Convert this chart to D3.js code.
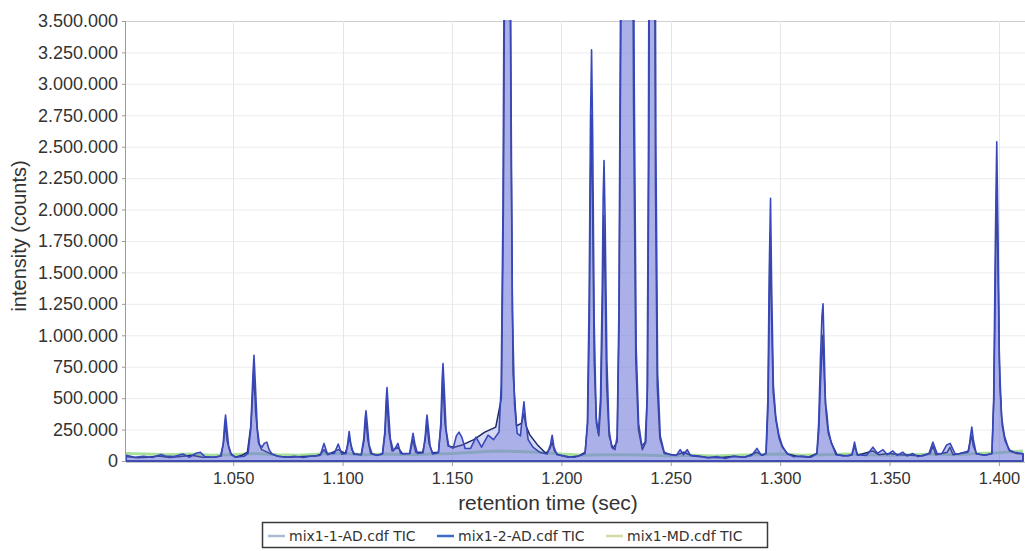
<!DOCTYPE html>
<html>
<head>
<meta charset="utf-8">
<script src="https://cdn.jsdelivr.net/npm/d3@7"></script>
<style>
  body { margin: 0; background: #fff; }
  svg { display: block; font-family: "Liberation Sans", Arial, sans-serif; }
</style>
</head>
<body>
<svg id="chart" width="1025" height="551"></svg>
<script>
// retention time (sec) ticks and intensity ticks
const xTicks = [1050, 1100, 1150, 1200, 1250, 1300, 1350, 1400];
const yTicks = [0, 250000, 500000, 750000, 1000000, 1250000, 1500000, 1750000,
                2000000, 2250000, 2500000, 2750000, 3000000, 3250000, 3500000];
const seriesNames = ["mix1-1-AD.cdf TIC", "mix1-2-AD.cdf TIC", "mix1-MD.cdf TIC"];
const legendColors = ["#a9bcd4", "#3b6cc6", "#cfdca6"];

// [time, counts]
const ad1Points = [
  [1001, 35000], [1006, 25000], [1011, 30000], [1016, 40000], [1021, 28000], [1026, 35000],
  [1031, 45000], [1036, 30000], [1042, 32000], [1044.5, 40000], [1045.6, 150000], [1046.4, 300000],
  [1047.2, 160000], [1048.8, 60000], [1051, 30000], [1054, 45000], [1056.5, 70000], [1058.2, 300000],
  [1059.4, 700000], [1060.3, 380000], [1061.5, 150000], [1063, 90000], [1065, 75000], [1067.5, 55000],
  [1071, 35000], [1076, 30000], [1082, 35000], [1088, 40000], [1090, 55000], [1091.5, 90000],
  [1093.2, 50000], [1098, 90000], [1101.2, 60000], [1102.3, 120000], [1103.1, 190000], [1104.2, 90000],
  [1105.5, 55000], [1108.6, 50000], [1109.8, 160000], [1110.6, 340000], [1111.5, 170000], [1112.8, 60000],
  [1116, 45000], [1118.3, 60000], [1119.4, 220000], [1120.2, 500000], [1121.2, 230000], [1122.6, 80000],
  [1125.2, 110000], [1127.5, 55000], [1130.8, 60000], [1132.1, 170000], [1133.4, 70000], [1136.6, 70000],
  [1137.7, 160000], [1138.5, 300000], [1139.5, 140000], [1141, 65000], [1143.8, 70000], [1145, 280000],
  [1145.8, 640000], [1146.8, 300000], [1148.2, 120000], [1151, 110000], [1155, 130000], [1160, 170000],
  [1165, 230000], [1170, 270000], [1172.6, 500000], [1173.5, 2000000], [1174.4, 5000000], [1176.3, 5000000],
  [1177, 2500000], [1177.9, 700000], [1179.5, 280000], [1181.8, 300000], [1182.8, 380000], [1183.8, 280000],
  [1185.5, 210000], [1189, 130000], [1193, 60000], [1194.8, 100000], [1195.8, 150000], [1196.8, 80000],
  [1198.5, 50000], [1203, 30000], [1208, 40000], [1210.9, 70000], [1212, 300000], [1212.8, 1100000],
  [1213.3, 2200000], [1213.7, 2750000], [1214.2, 2100000], [1215, 800000], [1216, 300000], [1217.1, 200000],
  [1218, 450000], [1218.8, 1200000], [1219.4, 1950000], [1219.9, 1500000], [1220.7, 600000], [1221.8, 200000],
  [1223.5, 100000], [1225.5, 150000], [1226.4, 1100000], [1227.2, 3500000], [1227.9, 5500000], [1232.3, 5500000],
  [1233, 2800000], [1234, 800000], [1235.2, 250000], [1237, 90000], [1238.6, 150000], [1239.4, 600000],
  [1240, 2500000], [1240.5, 5500000], [1242.4, 5500000], [1243, 2200000], [1243.8, 600000], [1245, 180000],
  [1247, 60000], [1252, 45000], [1256, 70000], [1260, 40000], [1266, 30000], [1272, 25000],
  [1278, 35000], [1284, 30000], [1289.3, 70000], [1292, 45000], [1293.6, 60000], [1294.5, 450000],
  [1295.1, 1300000], [1295.5, 1800000], [1296, 1200000], [1296.8, 550000], [1298, 330000], [1299.5, 180000],
  [1301, 110000], [1303.5, 55000], [1308, 35000], [1313, 30000], [1316.8, 60000], [1317.7, 250000],
  [1318.5, 650000], [1319.5, 1000000], [1320.2, 650000], [1321, 380000], [1322, 220000], [1323.5, 140000],
  [1326, 50000], [1331, 40000], [1332.8, 50000], [1334, 120000], [1335.4, 45000], [1342.3, 80000],
  [1345, 50000], [1350, 60000], [1355, 50000], [1360, 45000], [1365, 40000], [1368.5, 60000],
  [1369.8, 120000], [1371.2, 50000], [1376.4, 70000], [1377.6, 110000], [1379, 50000], [1385.8, 70000],
  [1386.8, 150000], [1387.5, 200000], [1388.3, 120000], [1389.8, 55000], [1394, 45000], [1396.8, 60000],
  [1397.7, 500000], [1398.5, 1600000], [1399, 2200000], [1399.6, 1500000], [1400.4, 600000], [1401.5, 280000],
  [1402.8, 160000], [1405, 80000], [1408, 60000], [1411, 55000]
];

const ad2Points = [
  [1001, 45000], [1005, 30000], [1009, 38000], [1013, 28000], [1017, 52000], [1019, 40000],
  [1023, 35000], [1027, 55000], [1030, 30000], [1033, 62000], [1035, 70000], [1037, 35000],
  [1041, 30000], [1044.2, 40000], [1045.4, 130000], [1046.1, 300000], [1046.5, 365000], [1047, 280000],
  [1047.9, 120000], [1049.2, 50000], [1051, 30000], [1055, 38000], [1056.8, 60000], [1058, 250000],
  [1059, 680000], [1059.5, 840000], [1060.1, 620000], [1061, 260000], [1062, 130000], [1063.2, 110000],
  [1064.2, 140000], [1065.4, 150000], [1066.4, 90000], [1067.8, 55000], [1070, 40000], [1074, 30000],
  [1078, 38000], [1082, 28000], [1086, 40000], [1089.8, 45000], [1091.5, 140000], [1093, 60000],
  [1096.2, 60000], [1098, 135000], [1099.6, 55000], [1101.6, 60000], [1102.4, 150000], [1103, 235000],
  [1103.7, 140000], [1105, 55000], [1108.5, 50000], [1109.7, 180000], [1110.3, 340000], [1110.7, 400000],
  [1111.2, 310000], [1112.1, 130000], [1113.5, 55000], [1115.5, 45000], [1118.2, 55000], [1119.3, 230000],
  [1119.9, 480000], [1120.3, 585000], [1120.8, 450000], [1121.8, 180000], [1123.2, 80000], [1124.3, 110000],
  [1125.3, 140000], [1126.5, 60000], [1130.6, 60000], [1131.5, 150000], [1132.2, 220000], [1133, 140000],
  [1134.2, 60000], [1136.8, 65000], [1137.8, 200000], [1138.3, 320000], [1138.6, 365000], [1139.1, 280000],
  [1140, 120000], [1141.2, 55000], [1143.8, 65000], [1144.9, 300000], [1145.5, 650000], [1145.9, 775000],
  [1146.4, 600000], [1147.3, 250000], [1148.5, 120000], [1150.5, 100000], [1152, 200000], [1153.2, 230000],
  [1154.5, 190000], [1156, 100000], [1158.5, 100000], [1161, 190000], [1163.5, 110000], [1166.5, 205000],
  [1169, 170000], [1171.5, 230000], [1172.5, 600000], [1173.3, 2000000], [1174, 4500000], [1174.6, 6000000],
  [1176, 6000000], [1176.8, 3500000], [1177.6, 1200000], [1178.6, 450000], [1179.8, 220000], [1181.3, 200000],
  [1182, 330000], [1182.9, 470000], [1183.7, 320000], [1184.8, 170000], [1187, 110000], [1190, 70000],
  [1193.5, 55000], [1195, 130000], [1195.8, 205000], [1196.6, 110000], [1198, 50000], [1200, 45000],
  [1203, 35000], [1206, 30000], [1209, 45000], [1210.8, 60000], [1211.9, 300000], [1212.7, 1300000],
  [1213.3, 2700000], [1213.8, 3270000], [1214.3, 2600000], [1215, 1100000], [1215.9, 350000], [1216.9, 220000],
  [1217.9, 500000], [1218.7, 1400000], [1219.1, 2100000], [1219.5, 2390000], [1220, 1900000], [1220.8, 800000],
  [1221.8, 250000], [1223, 110000], [1224.5, 90000], [1225.5, 200000], [1226.3, 1200000], [1227, 3500000],
  [1227.6, 6000000], [1232.6, 6000000], [1233.3, 3000000], [1234.2, 900000], [1235.3, 300000], [1236.8, 120000],
  [1238.3, 150000], [1239.2, 500000], [1239.8, 2500000], [1240.3, 6000000], [1242.6, 6000000], [1243.2, 2500000],
  [1244, 700000], [1245.2, 200000], [1247, 70000], [1250, 50000], [1252.5, 45000], [1254.3, 90000],
  [1255.8, 50000], [1257.5, 90000], [1259, 45000], [1263, 40000], [1267, 25000], [1271, 35000],
  [1275, 20000], [1279, 40000], [1283, 30000], [1287, 45000], [1289.4, 100000], [1291.4, 45000],
  [1293.5, 60000], [1294.4, 500000], [1295, 1500000], [1295.6, 2090000], [1296.1, 1400000], [1296.9, 600000],
  [1298, 350000], [1299.5, 200000], [1301, 120000], [1303, 60000], [1306, 35000], [1310, 40000],
  [1314, 30000], [1316.8, 60000], [1317.6, 300000], [1318.4, 800000], [1319.1, 1150000], [1319.6, 1250000],
  [1320.1, 900000], [1320.7, 450000], [1321.3, 390000], [1322, 250000], [1323.3, 150000], [1325.5, 50000],
  [1329, 40000], [1332.8, 50000], [1334, 150000], [1335.2, 50000], [1339.5, 45000], [1342.4, 110000],
  [1344.5, 60000], [1347, 90000], [1349, 50000], [1351.5, 80000], [1353.5, 45000], [1356, 70000],
  [1358, 40000], [1360.5, 60000], [1363, 35000], [1366, 50000], [1368, 60000], [1369.8, 150000],
  [1371.8, 55000], [1374, 60000], [1376, 125000], [1377.7, 140000], [1380, 55000], [1382, 60000],
  [1386.2, 80000], [1387, 200000], [1387.6, 270000], [1388.3, 170000], [1389.6, 60000], [1393, 45000],
  [1396.8, 60000], [1397.6, 500000], [1398.4, 1800000], [1399, 2540000], [1399.5, 1900000], [1400.2, 800000],
  [1401.2, 350000], [1402.5, 200000], [1404.5, 90000], [1407, 70000], [1411, 60000]
];

const mdPoints = [
  [1001, 60000], [1010, 55000], [1020, 50000], [1030, 55000], [1040, 45000], [1050, 50000],
  [1060, 60000], [1070, 50000], [1080, 45000], [1090, 55000], [1100, 60000], [1110, 50000],
  [1120, 55000], [1130, 50000], [1140, 55000], [1150, 60000], [1160, 70000], [1170, 80000],
  [1180, 75000], [1190, 70000], [1200, 55000], [1210, 45000], [1220, 50000], [1230, 50000],
  [1240, 45000], [1250, 40000], [1260, 45000], [1270, 40000], [1280, 45000], [1290, 50000],
  [1300, 55000], [1310, 45000], [1320, 50000], [1330, 55000], [1340, 50000], [1350, 45000],
  [1360, 50000], [1370, 55000], [1380, 50000], [1390, 60000], [1400, 65000], [1411, 80000]
];

const svg = d3.select('#chart');
const plotLeft = 126, plotTop = 21, plotRight = 1023, plotBottom = 461;

const fmt = d3.formatLocale({decimal: ',', thousands: '.', grouping: [3], currency: ['', '']}).format(',d');
const x = d3.scaleLinear().domain([1001, 1411]).range([plotLeft, plotRight]);
const y = d3.scaleLinear().domain([0, 3500000]).range([plotBottom, plotTop]);

svg.append('defs').append('clipPath').attr('id', 'plotclip')
  .append('rect').attr('x', plotLeft).attr('y', plotTop - 1)
  .attr('width', 1025 - plotLeft).attr('height', plotBottom - plotTop + 2);

// grid
const grid = svg.append('g');
grid.selectAll('.hg').data(yTicks).enter().append('line')
  .attr('x1', plotLeft).attr('x2', 1025).attr('y1', d => y(d) + 0.5).attr('y2', d => y(d) + 0.5)
  .attr('stroke', d => d === 3500000 ? '#cfcfcf' : '#ececec').attr('stroke-width', 1);
grid.selectAll('.vg').data(xTicks).enter().append('line')
  .attr('y1', plotTop).attr('y2', plotBottom)
  .attr('x1', d => Math.round(x(d)) + 0.5).attr('x2', d => Math.round(x(d)) + 0.5)
  .attr('stroke', '#e6e6e6').attr('stroke-width', 1);

// traces: MD under, dark 1-AD, then blue 2-AD on top
const plot = svg.append('g').attr('clip-path', 'url(#plotclip)');
const line = d3.line().x(d => x(d[0])).y(d => y(d[1]));
const area = d3.area().x(d => x(d[0])).y0(y(0)).y1(d => y(d[1]));

plot.append('path').datum(mdPoints).attr('d', line)
  .attr('fill', 'none').attr('stroke', '#a8df9c').attr('stroke-width', 3);
plot.append('path').datum(ad1Points).attr('d', area)
  .attr('fill', '#8c95e0').attr('fill-opacity', 0.35)
  .attr('stroke', '#1d2766').attr('stroke-width', 1.5).attr('stroke-linejoin', 'round');
plot.append('path').datum(ad2Points).attr('d', area)
  .attr('fill', '#6a73d6').attr('fill-opacity', 0.4)
  .attr('stroke', '#3848bb').attr('stroke-width', 1.6).attr('stroke-linejoin', 'round');

// axes
const yAxis = svg.append('g').attr('transform', `translate(${plotLeft},0)`)
  .call(d3.axisLeft(y).tickValues(yTicks).tickFormat(fmt).tickSize(4).tickPadding(4));
const xAxis = svg.append('g').attr('transform', `translate(0,${plotBottom + 1})`)
  .call(d3.axisBottom(x).tickValues(xTicks).tickFormat(fmt).tickSize(4).tickPadding(6));
yAxis.select('.domain').attr('stroke', '#9c9c9c').attr('d', `M-0.5,${plotTop}V${plotBottom + 1}`);
xAxis.select('.domain').attr('stroke', '#c4c4c4').attr('d', `M${plotLeft},0.5H1025`);
[yAxis, xAxis].forEach(a => {
  a.selectAll('.tick line').attr('stroke', '#9c9c9c');
  a.selectAll('.tick text').attr('fill', '#333').attr('font-family', '"Liberation Sans", Arial, sans-serif');
});
yAxis.selectAll('.tick text').attr('font-size', 18);
xAxis.selectAll('.tick text').attr('font-size', 16.5);

// axis titles
svg.append('text')
  .attr('transform', 'translate(26,236) rotate(-90)')
  .attr('text-anchor', 'middle').attr('font-size', 20).attr('fill', '#333')
  .text('intensity (counts)');
svg.append('text')
  .attr('x', 548).attr('y', 510)
  .attr('text-anchor', 'middle').attr('font-size', 21).attr('fill', '#333')
  .text('retention time (sec)');

// legend
const lg = svg.append('g');
lg.append('rect').attr('x', 262.5).attr('y', 522.5).attr('width', 505).attr('height', 25)
  .attr('fill', '#fff').attr('stroke', '#3a3a3a').attr('stroke-width', 1.5);
const itemX = [268, 437, 606];
seriesNames.forEach((name, i) => {
  lg.append('line').attr('x1', itemX[i]).attr('x2', itemX[i] + 17).attr('y1', 536).attr('y2', 536)
    .attr('stroke', legendColors[i]).attr('stroke-width', 2.5);
  lg.append('text').attr('x', itemX[i] + 21).attr('y', 541)
    .attr('font-family', '"DejaVu Sans", sans-serif').attr('font-size', 14).attr('fill', '#333')
    .text(name);
});
</script>
</body>
</html>
